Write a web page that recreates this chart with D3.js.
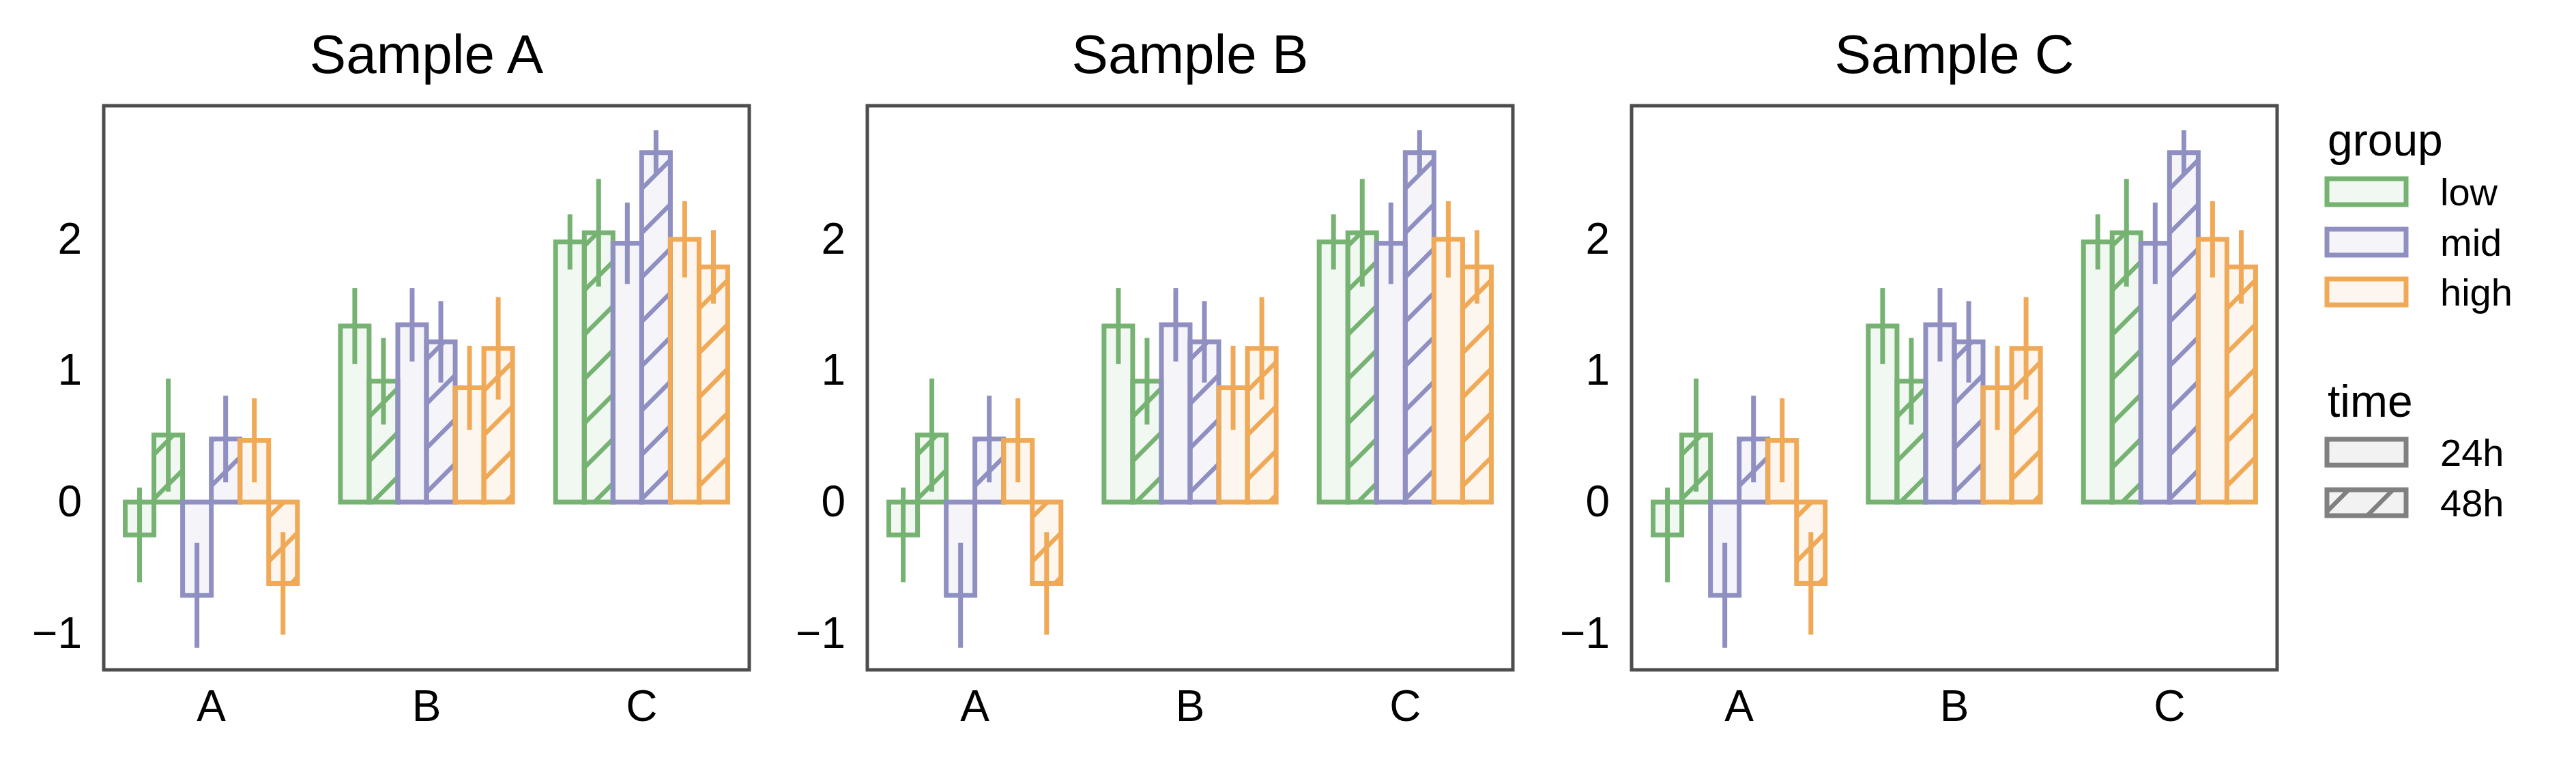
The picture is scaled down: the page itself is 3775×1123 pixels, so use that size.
<!DOCTYPE html>
<html>
<head>
<meta charset="utf-8">
<script src="https://cdn.jsdelivr.net/npm/d3@7"></script>
<style>
  html, body { margin: 0; padding: 0; background: #ffffff; }
  svg { display: block; }
  text { font-family: "Liberation Sans", Arial, "DejaVu Sans", sans-serif; fill: #000; }
</style>
</head>
<body>
<svg id="chart" width="3775" height="1123"></svg>
<script>
// ---------------- data ----------------
const samples = ["Sample A", "Sample B", "Sample C"];
const categories = ["A", "B", "C"];
const groups = ["low", "mid", "high"];
const times = ["24h", "48h"];
const yTicks = [-1, 0, 1, 2];

// means per category (A, B, C)
const low24 = [-0.25, 1.34, 1.98];
const low48 = [0.51, 0.92, 2.05];
const mid24 = [-0.71, 1.35, 1.97];
const mid48 = [0.48, 1.22, 2.66];
const high24 = [0.47, 0.87, 2.00];
const high48 = [-0.62, 1.17, 1.79];
// error half-widths per category
const low24Err = [0.36, 0.29, 0.21];
const low48Err = [0.43, 0.33, 0.41];
const mid24Err = [0.40, 0.28, 0.31];
const mid48Err = [0.33, 0.31, 0.17];
const high24Err = [0.32, 0.32, 0.29];
const high48Err = [0.39, 0.39, 0.28];

// ---------------- styling ----------------
const groupColor = { low: "#76b373", mid: "#8f8fc2", high: "#efa957" };
const timeColor = "#808080";

const seriesList = [
  { group: "low",  time: "24h", values: low24,  errs: low24Err },
  { group: "low",  time: "48h", values: low48,  errs: low48Err },
  { group: "mid",  time: "24h", values: mid24,  errs: mid24Err },
  { group: "mid",  time: "48h", values: mid48,  errs: mid48Err },
  { group: "high", time: "24h", values: high24, errs: high24Err },
  { group: "high", time: "48h", values: high48, errs: high48Err }
];

const svg = d3.select("#chart");
const panelLefts = [152, 1271, 2391];
const panelW = 946, panelTop = 155, panelH = 827;
const edgeW = 7, hatchW = 6.5, hatchStep = 65;

// hatch patterns
const defs = svg.append("defs");
function makeHatch(id, color) {
  const p = defs.append("pattern")
    .attr("id", id)
    .attr("patternUnits", "userSpaceOnUse")
    .attr("width", hatchStep).attr("height", hatchStep);
  p.append("path")
    .attr("d", `M0,${hatchStep} L${hatchStep},0 M${-hatchStep/2},${hatchStep/2} L${hatchStep/2},${-hatchStep/2} M${hatchStep/2},${hatchStep*1.5} L${hatchStep*1.5},${hatchStep/2}`)
    .attr("stroke", color).attr("stroke-width", hatchW).attr("fill", "none");
}
groups.forEach(g => makeHatch("hatch-" + g, groupColor[g]));
makeHatch("hatch-gray", timeColor);

const x = d3.scaleBand().domain(categories).range([0, panelW]).padding(0);
const inner = d3.scaleBand()
  .domain(seriesList.map((s, i) => i))
  .range([x.bandwidth() * 0.1, x.bandwidth() * 0.9]).padding(0);
const y = d3.scaleLinear().domain([-1.277, 3.017]).range([panelH, 0]);

samples.forEach((sample, pi) => {
  const g = svg.append("g").attr("transform", `translate(${panelLefts[pi]},${panelTop})`);

  // title
  svg.append("text")
    .attr("x", panelLefts[pi] + panelW / 2).attr("y", 107)
    .attr("text-anchor", "middle").attr("font-size", 80)
    .text(sample);

  // bars
  seriesList.forEach((s, si) => {
    const col = groupColor[s.group];
    const fillCol = d3.color(col); fillCol.opacity = 0.1;
    categories.forEach((c, ci) => {
      const v = s.values[ci];
      const bx = x(c) + inner(si);
      const bw = inner.bandwidth();
      const by = Math.min(y(v), y(0));
      const bh = Math.abs(y(v) - y(0));
      g.append("rect").attr("x", bx).attr("y", by).attr("width", bw).attr("height", bh)
        .attr("fill", fillCol.formatRgb());
      if (s.time === "48h") {
        g.append("rect").attr("x", bx).attr("y", by).attr("width", bw).attr("height", bh)
          .attr("fill", `url(#hatch-${s.group})`);
      }
      g.append("rect").attr("x", bx).attr("y", by).attr("width", bw).attr("height", bh)
        .attr("fill", "none").attr("stroke", col).attr("stroke-width", edgeW);
    });
  });

  // error bars
  seriesList.forEach((s, si) => {
    const col = groupColor[s.group];
    categories.forEach((c, ci) => {
      const cx = x(c) + inner(si) + inner.bandwidth() / 2;
      g.append("line")
        .attr("x1", cx).attr("x2", cx)
        .attr("y1", y(s.values[ci] - s.errs[ci]))
        .attr("y2", y(s.values[ci] + s.errs[ci]))
        .attr("stroke", col).attr("stroke-width", edgeW);
    });
  });

  // frame
  g.append("rect").attr("x", 0).attr("y", 0).attr("width", panelW).attr("height", panelH)
    .attr("fill", "none").attr("stroke", "#4d4d4d").attr("stroke-width", 5);

  // axes
  const ya = g.append("g").call(d3.axisLeft(y).tickValues(yTicks).tickFormat(d3.format("d")).tickSize(0).tickPadding(32));
  ya.select(".domain").remove();
  ya.selectAll("text").attr("font-size", 64).attr("font-family", '"Liberation Sans", Arial, sans-serif').attr("fill", "#000");

  const xa = g.append("g").attr("transform", `translate(0,${panelH})`)
    .call(d3.axisBottom(x).tickSize(0).tickPadding(30));
  xa.select(".domain").remove();
  xa.selectAll("text").attr("font-size", 64).attr("font-family", '"Liberation Sans", Arial, sans-serif').attr("fill", "#000");
});

// ---------------- legend ----------------
const lg = svg.append("g");
const boxX = 3410, boxW = 116, boxH = 38, labelX = 3576;
lg.append("text").attr("x", 3411).attr("y", 228).attr("font-size", 66).text("group");
const groupRows = [281, 355, 428];
groups.forEach((gname, i) => {
  const col = d3.color(groupColor[gname]); col.opacity = 0.1;
  lg.append("rect").attr("x", boxX).attr("y", groupRows[i] - boxH / 2).attr("width", boxW).attr("height", boxH)
    .attr("fill", col.formatRgb()).attr("stroke", groupColor[gname]).attr("stroke-width", edgeW);
  lg.append("text").attr("x", labelX).attr("y", groupRows[i]).attr("dy", "0.36em")
    .attr("font-size", 56).text(gname);
});
lg.append("text").attr("x", 3411).attr("y", 611).attr("font-size", 66).text("time");
const timeRows = [663, 737];
times.forEach((t, i) => {
  const cy = timeRows[i];
  lg.append("rect").attr("x", boxX).attr("y", cy - boxH / 2).attr("width", boxW).attr("height", boxH)
    .attr("fill", "#f2f2f2");
  if (t === "48h") {
    lg.append("rect").attr("x", boxX).attr("y", cy - boxH / 2).attr("width", boxW).attr("height", boxH)
      .attr("fill", "url(#hatch-gray)");
  }
  lg.append("rect").attr("x", boxX).attr("y", cy - boxH / 2).attr("width", boxW).attr("height", boxH)
    .attr("fill", "none").attr("stroke", timeColor).attr("stroke-width", edgeW);
  lg.append("text").attr("x", labelX).attr("y", cy).attr("dy", "0.36em")
    .attr("font-size", 56).text(t);
});
</script>
</body>
</html>
